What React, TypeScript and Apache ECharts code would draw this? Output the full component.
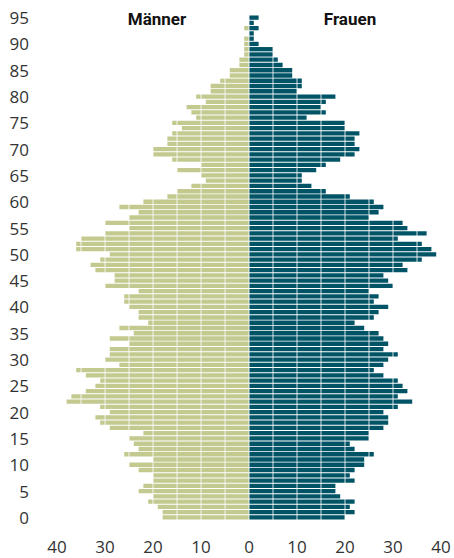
import React, { useEffect, useRef } from "react";
import * as echarts from "echarts";

const ages: string[] = Array.from({ length: 96 }, (_, i) => String(i));

// values listed from age 0 to age 95
const maennerValues: number[] = [
  18, 18, 19, 21, 20, 23, 22, 20, 20, 23, // 0-9
  25, 20, 26, 23, 24, 25, 22, 29, 31, 32, // 10-19
  29, 31, 38, 37, 34, 32, 31, 34, 36, 27, // 20-29
  30, 29, 29, 25, 29, 24, 27, 21, 23, 23, // 30-39
  25, 26, 26, 23, 30, 28, 28, 32, 33, 31, // 40-49
  29, 36, 36, 35, 30, 25, 30, 25, 23, 27, // 50-59
  22, 17, 15, 12, 9, 10, 15, 10, 16, 20, // 60-69
  20, 17, 17, 16, 14, 16, 11, 12, 13, 9, // 70-79
  11, 8, 8, 6, 4, 4, 2, 2, 1, 1, // 80-89
  1, 1, 0, 1, 0, 0, // 90-95
];

const frauenValues: number[] = [
  20, 22, 21, 22, 19, 18, 18, 22, 21, 22, // 0-9
  24, 24, 26, 22, 21, 25, 25, 28, 29, 29, // 10-19
  28, 31, 34, 31, 33, 32, 31, 28, 26, 28, // 20-29
  29, 31, 28, 29, 28, 27, 24, 22, 26, 27, // 30-39
  29, 26, 27, 25, 30, 29, 28, 33, 32, 36, // 40-49
  39, 38, 36, 31, 37, 33, 32, 25, 27, 28, // 50-59
  26, 21, 16, 13, 11, 11, 14, 16, 19, 22, // 60-69
  23, 22, 22, 23, 20, 20, 12, 16, 15, 16, // 70-79
  18, 10, 11, 11, 9, 9, 7, 6, 5, 5, // 80-89
  2, 1, 1, 2, 1, 2, // 90-95
];

const xTicks: number[] = [-40, -30, -20, -10, 0, 10, 20, 30, 40];

const MEN_COLOR = "#c3c98f";
const WOMEN_COLOR = "#005466";
const FONT = "'Open Sans', 'Noto Sans', sans-serif";

export default function App() {
  const ref = useRef<HTMLDivElement>(null);

  useEffect(() => {
    document.body.style.margin = "0";
    if (!ref.current) return;
    const chart = echarts.init(ref.current, undefined, { renderer: "svg" });
    chart.setOption({
      animation: false,
      backgroundColor: "#ffffff",
      grid: { left: 57, right: 13, top: 15, bottom: 38, containLabel: false },
      xAxis: {
        type: "value",
        min: -40,
        max: 40,
        interval: 5,
        z: 10,
        axisLine: { show: false },
        axisTick: { show: false },
        splitLine: {
          show: true,
          lineStyle: { color: "rgba(255,255,255,0.55)", width: 1.5 },
        },
        axisLabel: {
          margin: 17,
          fontFamily: FONT,
          fontSize: 17,
          lineHeight: 18,
          color: "#333333",
          formatter: (v: number) =>
            xTicks.indexOf(v) >= 0 ? String(Math.abs(v)) : "",
        },
      },
      yAxis: {
        type: "category",
        data: ages,
        axisLine: { show: false },
        axisTick: { show: false },
        splitLine: { show: false },
        axisLabel: {
          interval: 4,
          margin: 28,
          fontFamily: FONT,
          fontSize: 17,
          color: "#333333",
        },
      },
      series: [
        {
          name: "Männer",
          type: "bar",
          data: maennerValues.map((v) => -v),
          itemStyle: { color: MEN_COLOR },
          barCategoryGap: "18%",
          barGap: "-100%",
        },
        {
          name: "Frauen",
          type: "bar",
          data: frauenValues,
          itemStyle: { color: WOMEN_COLOR },
          barCategoryGap: "18%",
          barGap: "-100%",
        },
      ],
      graphic: [
        {
          type: "text",
          x: 157,
          y: 19,
          style: {
            text: "Männer",
            font: "bold 17px Roboto, sans-serif",
            fill: "#111111",
            textAlign: "center",
            textVerticalAlign: "middle",
          },
          z: 20,
        },
        {
          type: "text",
          x: 350,
          y: 19,
          style: {
            text: "Frauen",
            font: "bold 17px Roboto, sans-serif",
            fill: "#111111",
            textAlign: "center",
            textVerticalAlign: "middle",
          },
          z: 20,
        },
      ],
    });
    return () => chart.dispose();
  }, []);

  return <div ref={ref} style={{ width: 454, height: 558 }} />;
}
